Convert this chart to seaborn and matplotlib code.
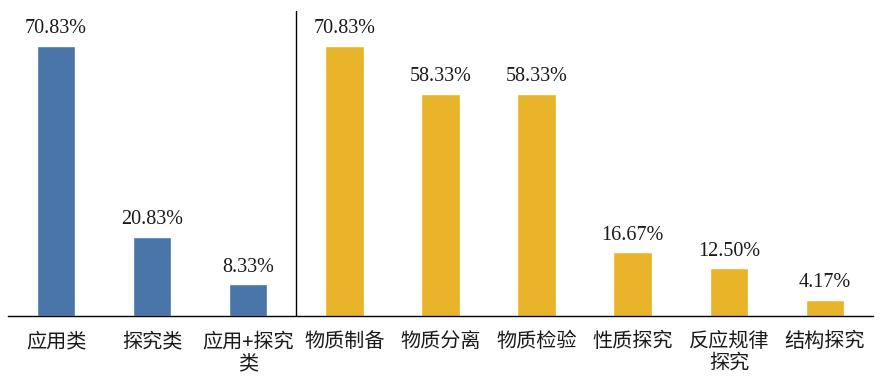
import matplotlib
matplotlib.use("Agg")
import matplotlib.pyplot as plt
import seaborn as sns
import pandas as pd

categories = ["应用类", "探究类", "应用+探究\n类", "物质制备", "物质分离", "物质检验",
              "性质探究", "反应规律\n探究", "结构探究"]
values = [70.83, 20.83, 8.33, 70.83, 58.33, 58.33, 16.67, 12.50, 4.17]
groups = ["A", "A", "A", "B", "B", "B", "B", "B", "B"]
labels = ["70.83%", "20.83%", "8.33%", "70.83%", "58.33%", "58.33%", "16.67%", "12.50%", "4.17%"]

sns.set_theme(style="white")
plt.rcParams['font.family'] = ['Noto Sans CJK SC', 'DejaVu Sans']

df = pd.DataFrame({"cat": categories, "val": values, "grp": groups})

fig = plt.figure(figsize=(8.8, 3.81), dpi=100)
ax = fig.add_axes([8/880, 1 - 316/381, 865/880, 305/381])
sns.barplot(data=df, x="cat", y="val", hue="grp", dodge=False, width=0.4,
            palette={"A": "#4A75A8", "B": "#E9B42A"}, legend=False, ax=ax, saturation=1)

for i, (v, t) in enumerate(zip(values, labels)):
    ax.text(i, v + 2.0, t, ha="center", va="bottom", fontsize=14.5,
            family="Liberation Serif", color="#1a1a1a")

ax.set_ylim(0, 80)
ax.set_xlim(-0.5, len(categories) - 0.5)
ax.axvline(2.5, ymin=0, ymax=1, color="black", lw=1)
for s in ["top", "right", "left"]:
    ax.spines[s].set_visible(False)
ax.spines["bottom"].set_color("black")
ax.spines["bottom"].set_linewidth(1)
ax.set_yticks([])
ax.set_xlabel("")
ax.set_ylabel("")
ax.tick_params(axis="x", length=0, pad=11, labelsize=14.5, colors="#1a1a1a")
for lab in ax.get_xticklabels():
    lab.set_linespacing(1.05)

fig.savefig("out.png", dpi=100)
